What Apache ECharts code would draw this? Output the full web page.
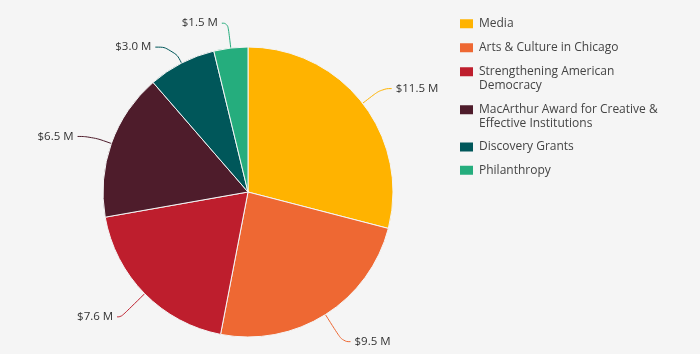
<!DOCTYPE html>
<html>
<head>
<meta charset="utf-8">
<script src="https://cdn.jsdelivr.net/npm/echarts@6/dist/echarts.min.js"></script>
<style>html,body{margin:0;padding:0;background:#f5f5f5;}#c{width:700px;height:354px;}</style>
</head>
<body>
<div id="c"></div>
<script>
const categories = ["Media", "Arts & Culture in Chicago", "Strengthening American Democracy", "MacArthur Award for Creative & Effective Institutions", "Discovery Grants", "Philanthropy"];
const legendLabels = ["Media", "Arts & Culture in Chicago", "Strengthening American\nDemocracy", "MacArthur Award for Creative &\nEffective Institutions", "Discovery Grants", "Philanthropy"];
const values = [11.5, 9.5, 7.6, 6.5, 3.0, 1.5];
const colors = ["#FFB300", "#EE6833", "#BE1E2D", "#4E1C2B", "#00575A", "#25AD7D"];

// layout constants (not data)
const FONT = "'Open Sans'";
const lineH = 14;
const legendIconCenters = [22.7, 46.7, 70.7, 108.7, 146, 169.3];
const lineLengths = [[24, 10], [32, 8], [33, 4], [21, 14], [18, 18], [25, 6]];

const legends = categories.map((name, i) => {
  const lines = legendLabels[i].split("\n").length;
  return {
    data: [name],
    left: 458,
    top: legendIconCenters[i] - (lines === 1 ? 6 : 6 + lineH),
    itemWidth: 15,
    itemHeight: 11,
    itemGap: 5,
    icon: "rect",
    selectedMode: false,
    padding: 0,
    // leading blank line keeps the swatch level with the first text line
    formatter: () => (lines > 1 ? "\n" : "") + legendLabels[i],
    textStyle: {
      fontFamily: FONT,
      fontSize: 12,
      color: "#444",
      lineHeight: lineH
    }
  };
});

const chart = echarts.init(document.getElementById("c"), null, {renderer: "canvas"});
chart.setOption({
  backgroundColor: "#f5f5f5",
  animation: false,
  color: colors,
  legend: legends,
  series: [{
    type: "pie",
    center: [248, 192],
    radius: [0, 145],
    startAngle: 90,
    clockwise: true,
    avoidLabelOverlap: false,
    itemStyle: {borderColor: "#f5f5f5", borderWidth: 1},
    label: {
      show: true,
      formatter: p => "$" + p.value.toFixed(1) + " M",
      fontFamily: FONT,
      fontSize: 11.5,
      color: "#333",
      distanceToLabelLine: 4
    },
    labelLine: {
      show: true,
      smooth: 0.5,
      lineStyle: {width: 1}
    },
    emphasis: {disabled: true},
    data: categories.map((n, i) => ({
      name: n,
      value: values[i],
      labelLine: {length: lineLengths[i][0], length2: lineLengths[i][1]}
    }))
  }]
});
</script>
</body>
</html>
